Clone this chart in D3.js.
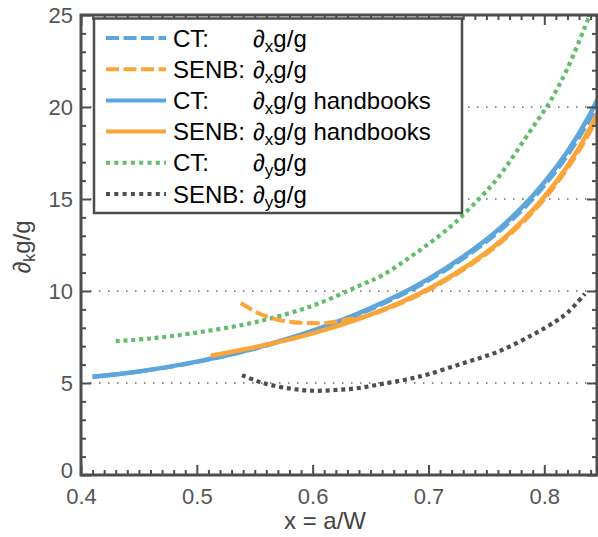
<!DOCTYPE html>
<html>
<head>
<meta charset="utf-8">
<script src="https://cdn.jsdelivr.net/npm/d3@7/dist/d3.min.js"></script>
<style>
  html, body { margin: 0; padding: 0; background: #fff; }
  svg { display: block; font-family: "Liberation Sans", Arial, Helvetica, sans-serif; }
</style>
</head>
<body>
<svg id="chart" width="598" height="537"></svg>
<script>
// ---- data ----
const ctHandbookX = [0.41, 0.45, 0.50, 0.55, 0.60, 0.65, 0.70, 0.75, 0.78, 0.80, 0.82, 0.84, 0.86];
const ctHandbookY = [5.34, 5.63, 6.16, 6.89, 7.84, 9.07, 10.66, 12.80, 14.50, 15.90, 17.58, 19.67, 22.34];

const ctNumX = [0.41, 0.45, 0.50, 0.55, 0.60, 0.65, 0.70, 0.75, 0.78, 0.80, 0.82, 0.84, 0.86];
const ctNumY = [5.34, 5.62, 6.14, 6.86, 7.80, 9.00, 10.57, 12.68, 14.34, 15.72, 17.37, 19.42, 22.05];

const senbHandbookX = [0.512, 0.55, 0.60, 0.65, 0.70, 0.75, 0.78, 0.80, 0.82, 0.84, 0.86];
const senbHandbookY = [6.48, 6.94, 7.70, 8.72, 10.11, 12.10, 13.74, 15.12, 16.80, 18.90, 21.61];

const senbNumX = [0.538, 0.551, 0.56, 0.57, 0.58, 0.59, 0.60, 0.61, 0.62, 0.63, 0.65, 0.70, 0.75, 0.78, 0.80, 0.82, 0.84, 0.86];
const senbNumY = [9.35, 8.86, 8.62, 8.44, 8.33, 8.27, 8.25, 8.26, 8.34, 8.45, 8.70, 10.05, 12.02, 13.64, 15.00, 16.66, 18.72, 21.38];

const ctYX = [0.43, 0.46, 0.50, 0.55, 0.60, 0.64, 0.66, 0.69, 0.72, 0.745, 0.76, 0.79, 0.805, 0.82, 0.84, 0.85];
const ctYY = [7.28, 7.42, 7.74, 8.30, 9.20, 10.28, 10.85, 12.10, 13.55, 15.10, 16.15, 18.90, 20.30, 22.10, 25.10, 26.60];

const senbYX = [0.539, 0.55, 0.56, 0.58, 0.60, 0.62, 0.64, 0.66, 0.68, 0.70, 0.73, 0.76, 0.79, 0.81, 0.82, 0.835];
const senbYY = [5.43, 5.15, 4.95, 4.70, 4.58, 4.62, 4.73, 4.95, 5.18, 5.48, 6.08, 6.70, 7.62, 8.36, 8.82, 9.85];

const xTickValues = [0.4, 0.5, 0.6, 0.7, 0.8];
const xTickLabels = ["0.4", "0.5", "0.6", "0.7", "0.8"];
const yTickValues = [0, 5, 10, 15, 20, 25];
const yTickLabels = ["0", "5", "10", "15", "20", "25"];
const gridValues = [5, 10, 15, 20];

const legendLabels = [
  { first: "CT:",   sub: "x", rest: "g/g" },
  { first: "SENB:", sub: "x", rest: "g/g" },
  { first: "CT:",   sub: "x", rest: "g/g handbooks" },
  { first: "SENB:", sub: "x", rest: "g/g handbooks" },
  { first: "CT:",   sub: "y", rest: "g/g" },
  { first: "SENB:", sub: "y", rest: "g/g" }
];

// ---- styles ----
const C_BLUE = "#5DA5DA", C_ORANGE = "#FAA43A", C_GREEN = "#60BD68", C_GRAY = "#4D4D4D";
const series = [
  { xs: ctYX, ys: ctYY, color: C_GREEN, dash: "4,3.8", width: 4.2 },
  { xs: senbYX, ys: senbYY, color: C_GRAY, dash: "4,3.8", width: 4.2 },
  { xs: ctNumX, ys: ctNumY, color: C_BLUE, dash: "13,4.5", width: 4 },
  { xs: ctHandbookX, ys: ctHandbookY, color: C_BLUE, dash: null, width: 4.5 },
  { xs: senbNumX, ys: senbNumY, color: C_ORANGE, dash: "13,4.5", width: 4 },
  { xs: senbHandbookX, ys: senbHandbookY, color: C_ORANGE, dash: null, width: 4.5 }
];
const legendStyles = [
  { color: C_BLUE, dash: "13,4.5" },
  { color: C_ORANGE, dash: "13,4.5" },
  { color: C_BLUE, dash: null },
  { color: C_ORANGE, dash: null },
  { color: C_GREEN, dash: "4,4.3" },
  { color: C_GRAY, dash: "4,4.3" }
];

const svg = d3.select("#chart");
const L = 81, R = 597, T = 15, B = 475;
const x = d3.scaleLinear().domain([0.4, 0.8455]).range([L, R]);
const y = d3.scaleLinear().domain([0, 25]).range([B, T]);

svg.append("defs").append("clipPath").attr("id", "clip")
  .append("rect").attr("x", L).attr("y", T).attr("width", R - L).attr("height", B - T);

// grid
svg.append("g").selectAll("line").data(gridValues).join("line")
  .attr("x1", L).attr("x2", R)
  .attr("y1", d => y(d)).attr("y2", d => y(d))
  .attr("stroke", "#666").attr("stroke-width", 1.3)
  .attr("stroke-dasharray", "1.5,7.5");

// curves
const line = d3.line().x(d => x(d[0])).y(d => y(d[1])).curve(d3.curveCatmullRom.alpha(0.5));
const plot = svg.append("g").attr("clip-path", "url(#clip)");
series.forEach(s => {
  const pts = s.xs.map((v, i) => [v, s.ys[i]]);
  plot.append("path").datum(pts)
    .attr("d", line)
    .attr("fill", "none")
    .attr("stroke", s.color)
    .attr("stroke-width", s.width)
    .attr("stroke-dasharray", s.dash)
    .attr("stroke-linecap", "butt");
});

// axes
const axisColor = "#4d4d4d";
const tickFont = 22;
const xMinor = d3.range(41, 85).map(i => i / 100).filter(v => Math.round(v * 100) % 10 !== 0);
const yMinor = d3.range(1, 25).filter(v => v % 5 !== 0);

function styleAxis(g) {
  g.select(".domain").remove();
  g.selectAll(".tick line").attr("stroke", axisColor).attr("stroke-width", 2);
  g.selectAll(".tick text").attr("fill", "#555").attr("font-size", tickFont)
    .attr("font-family", "'Liberation Sans', Arial, sans-serif");
}

svg.append("g").attr("transform", `translate(0,${B})`)
  .call(d3.axisBottom(x).tickValues(xTickValues).tickFormat((d, i) => xTickLabels[i]).tickSize(-10).tickPadding(13))
  .call(styleAxis);
svg.append("g").attr("transform", `translate(0,${B})`)
  .call(d3.axisBottom(x).tickValues(xMinor).tickFormat("").tickSize(-5))
  .call(styleAxis);
svg.append("g").attr("transform", `translate(0,${T})`)
  .call(d3.axisTop(x).tickValues(xTickValues).tickFormat("").tickSize(-10))
  .call(styleAxis);
svg.append("g").attr("transform", `translate(0,${T})`)
  .call(d3.axisTop(x).tickValues(xMinor).tickFormat("").tickSize(-5))
  .call(styleAxis);

const yAxisG = svg.append("g").attr("transform", `translate(${L},0)`)
  .call(d3.axisLeft(y).tickValues(yTickValues).tickFormat((d, i) => yTickLabels[i]).tickSize(-10).tickPadding(8))
  .call(styleAxis);
// the "0" label sits a touch higher, as in the reference, so it clears "0.4"
yAxisG.selectAll(".tick text").filter(d => d === 0).attr("dy", "0.12em");
svg.append("g").attr("transform", `translate(${L},0)`)
  .call(d3.axisLeft(y).tickValues(yMinor).tickFormat("").tickSize(-5))
  .call(styleAxis);
svg.append("g").attr("transform", `translate(${R},0)`)
  .call(d3.axisRight(y).tickValues(yTickValues).tickFormat("").tickSize(-10))
  .call(styleAxis);
svg.append("g").attr("transform", `translate(${R},0)`)
  .call(d3.axisRight(y).tickValues(yMinor).tickFormat("").tickSize(-5))
  .call(styleAxis);

// frame
svg.append("rect").attr("x", L).attr("y", T).attr("width", R - L).attr("height", B - T)
  .attr("fill", "none").attr("stroke", axisColor).attr("stroke-width", 3);

// axis labels
svg.append("text").attr("x", 325).attr("y", 529).attr("text-anchor", "middle")
  .attr("font-size", 24).attr("fill", "#444").text("x = a/W");

const yl = svg.append("text").attr("transform", "translate(30,247) rotate(-90)")
  .attr("text-anchor", "middle").attr("font-size", 24).attr("fill", "#444");
yl.append("tspan").text("\u2202");
yl.append("tspan").attr("font-size", 16).attr("dy", 5).text("k");
yl.append("tspan").attr("dy", -5).text("g/g");

// legend
const lg = svg.append("g");
lg.append("rect").attr("x", 94).attr("y", 18.5).attr("width", 368).attr("height", 194.5)
  .attr("fill", "#fff").attr("stroke", axisColor).attr("stroke-width", 2.5);
legendLabels.forEach((d, i) => {
  const cy = 38 + i * 31.2;
  const st = legendStyles[i];
  lg.append("line").attr("x1", 106).attr("x2", 166).attr("y1", cy).attr("y2", cy)
    .attr("stroke", st.color).attr("stroke-width", 4).attr("stroke-dasharray", st.dash);
  lg.append("text").attr("x", 173).attr("y", cy + 8.5).attr("font-size", 24).attr("fill", "#000").text(d.first);
  const t = lg.append("text").attr("x", 253).attr("y", cy + 8.5).attr("font-size", 24).attr("fill", "#000");
  t.append("tspan").text("\u2202");
  t.append("tspan").attr("font-size", 17).attr("dy", 5).text(d.sub);
  t.append("tspan").attr("dy", -5).text(d.rest);
});
</script>
</body>
</html>
